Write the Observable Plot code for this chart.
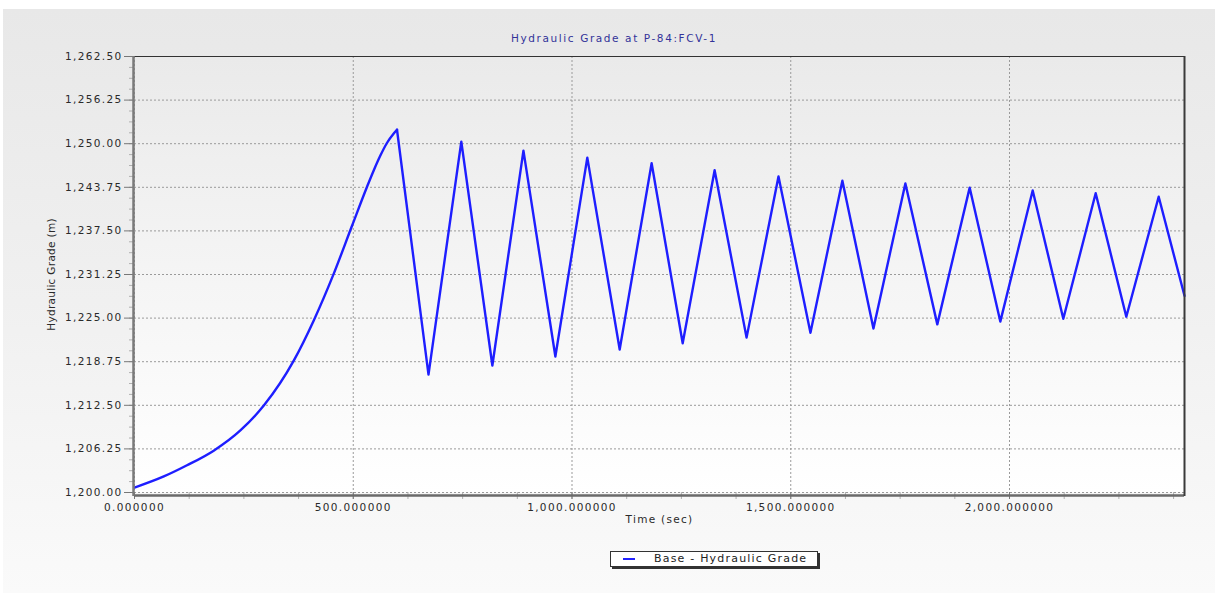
<!DOCTYPE html>
<html>
<head>
<meta charset="utf-8">
<script src="https://cdn.jsdelivr.net/npm/d3@7"></script>
<script src="https://cdn.jsdelivr.net/npm/@observablehq/plot@0.6"></script>
<style>
  html, body { margin: 0; padding: 0; background: #ffffff; }
  #wrap { position: relative; width: 1215px; height: 593px; overflow: hidden; background: #ffffff; }
  #panel { position: absolute; left: 3px; top: 9px; right: 0; bottom: 0;
           background: linear-gradient(to bottom, #e8e8e8 0%, #f0f0f0 50%, #fafafa 100%); }
  #chart { position: absolute; left: 0; top: 0; }
  #title { position: absolute; top: 32px; left: 0; width: 1228px; text-align: center;
           font-family: "DejaVu Sans", sans-serif; font-size: 10.5px; letter-spacing: 1.6px; color: #333399; }
  #legend { position: absolute; left: 610px; top: 551px; width: 206px; height: 14px;
            border: 1px solid #333; background: #ffffff; box-shadow: 2px 2px 0 #333;
            font-family: "DejaVu Sans", sans-serif; font-size: 11px; letter-spacing: 1.2px; color: #222;
            line-height: 14px; white-space: nowrap; }
  #legend .sw { position: absolute; left: 12px; top: 6px; width: 12px; height: 2px; background: #2222ff; }
  #legend .lb { position: absolute; left: 43px; top: 0; }
</style>
</head>
<body>
<div id="wrap">
  <div id="panel"></div>
  <div id="chart"></div>
  <div id="title">Hydraulic Grade at P-84:FCV-1</div>
  <div id="legend"><span class="sw"></span><span class="lb">Base - Hydraulic Grade</span></div>
</div>
<script>
// ---- data ----
const riseTime  = [0, 67, 120, 181, 242, 296, 364, 410, 455, 497, 532, 547, 562, 577, 593, 600];
const riseGrade = [1200.7, 1202.3, 1203.9, 1206.0, 1208.9, 1212.5, 1218.9, 1224.7, 1231.3, 1238.2, 1243.9, 1246.2, 1248.3, 1250.1, 1251.5, 1252.0];

const oscTime  = [600, 672, 747, 818, 889, 962, 1035, 1109, 1182, 1253, 1326, 1399, 1472, 1545, 1618, 1689, 1762, 1835, 1909, 1979, 2053, 2123, 2197, 2267, 2341, 2400];
const oscGrade = [1252.0, 1216.9, 1250.3, 1218.2, 1249.0, 1219.5, 1248.0, 1220.5, 1247.2, 1221.4, 1246.2, 1222.2, 1245.3, 1222.9, 1244.7, 1223.5, 1244.3, 1224.1, 1243.7, 1224.5, 1243.3, 1224.9, 1242.9, 1225.2, 1242.4, 1228.2];

const xMajorTicks = [0, 500, 1000, 1500, 2000];
const xMinorTicks = d3.range(0, 2400.1, 125);
const yMajorTicks = [1200, 1206.25, 1212.5, 1218.75, 1225, 1231.25, 1237.5, 1243.75, 1250, 1256.25, 1262.5];
const yMinorTicks = d3.range(1200, 1262.51, 1.5625);

const xLabel = "Time (sec)";
const yLabel = "Hydraulic Grade (m)";
const seriesName = "Base - Hydraulic Grade";

const rise = riseTime.map((t, i) => ({t, v: riseGrade[i]}));
const osc  = oscTime.map((t, i) => ({t, v: oscGrade[i]}));

const font = "'DejaVu Sans', sans-serif";

const chart = Plot.plot({
  width: 1215,
  height: 593,
  marginLeft: 134,
  marginRight: 31,
  marginTop: 56,
  marginBottom: 101,
  style: {background: "transparent", fontFamily: font, fontSize: "10.5px", color: "#333", overflow: "visible"},
  x: {domain: [0, 2400]},
  y: {domain: [1200, 1262.5]},
  marks: [
    Plot.frame({fill: "url(#plotBgGrad)", stroke: null}),
    Plot.gridX(xMajorTicks, {stroke: "#9a9a9a", strokeOpacity: 1, strokeDasharray: "2,2", strokeWidth: 1}),
    Plot.gridY(yMajorTicks, {stroke: "#9a9a9a", strokeOpacity: 1, strokeDasharray: "2,2", strokeWidth: 1}),
    Plot.axisY(yMinorTicks, {tickSize: 5, tickFormat: () => "", stroke: "#b0b0b0", label: null}),
    Plot.axisY(yMajorTicks, {tickSize: 10, tickPadding: 2, tickFormat: d3.format(",.2f"), stroke: "#777",
      label: yLabel, labelAnchor: "center", labelOffset: 87, labelArrow: "none", fill: "#2a2a2a"}),
    Plot.axisX(xMinorTicks, {tickSize: 7, tickFormat: () => "", stroke: "#b0b0b0", label: null}),
    Plot.axisX(xMajorTicks, {tickSize: 7, tickPadding: 4, tickFormat: d3.format(",.6f"), stroke: "#777",
      label: xLabel, labelAnchor: "center", labelOffset: 30, labelArrow: "none", fill: "#2a2a2a"}),
    Plot.line(rise, {x: "t", y: "v", stroke: "#1e1eff", strokeWidth: 2.4, curve: "monotone-x"}),
    Plot.line(osc, {x: "t", y: "v", stroke: "#1e1eff", strokeWidth: 2.4, strokeLinejoin: "round"}),
    Plot.ruleY([1262.5], {stroke: "#333", strokeWidth: 1}),
    Plot.ruleY([1200], {stroke: "#6a6a6a", strokeWidth: 2.5, dy: 3}),
    Plot.ruleX([2400], {stroke: "#3a3a3a", strokeWidth: 2, insetBottom: -4}),
    Plot.ruleX([0], {stroke: "#7a7a7a", strokeWidth: 2.5, dx: -1, insetBottom: -4})
  ]
});

// gradient for the plotting area
const ns = "http://www.w3.org/2000/svg";
const defs = document.createElementNS(ns, "defs");
defs.innerHTML = '<linearGradient id="plotBgGrad" x1="0" y1="0" x2="0" y2="1">' +
  '<stop offset="0" stop-color="#eaeaea"/><stop offset="1" stop-color="#ffffff"/></linearGradient>';
chart.insertBefore(defs, chart.firstChild);

// letter spacing for tick labels
d3.select(chart).selectAll("g[aria-label='y-axis tick label'] text, g[aria-label='x-axis tick label'] text")
  .style("letter-spacing", "1.35px");
d3.select(chart).selectAll("g[aria-label='y-axis label'] text").style("font-size", "10.5px").style("letter-spacing", "0.3px");
d3.select(chart).selectAll("g[aria-label='x-axis label'] text").style("font-size", "10.5px").style("letter-spacing", "1.3px");

document.getElementById("chart").appendChild(chart);
document.querySelector("#legend .lb").textContent = seriesName;
</script>
</body>
</html>
